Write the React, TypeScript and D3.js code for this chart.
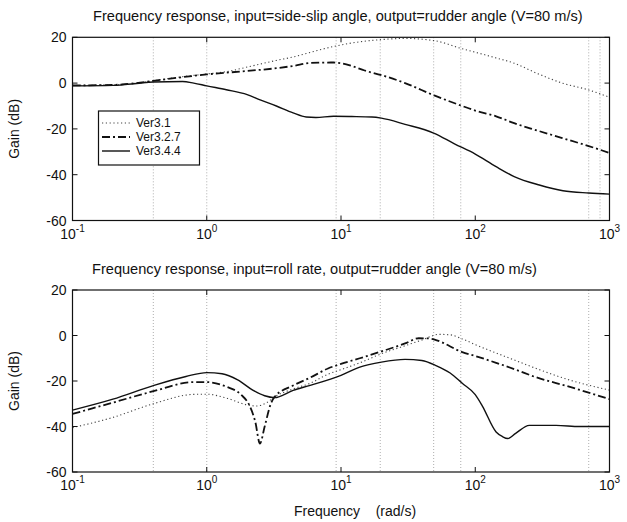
import React from "react";
import * as d3 from "d3";

type Pt = [number, number];

const seriesNames = ["Ver3.1", "Ver3.2.7", "Ver3.4.4"];
const freqTicks = [0.1, 1, 10, 100, 1000];
const freqTickExp = ["-1", "0", "1", "2", "3"];
const gainTicks = [20, 0, -20, -40, -60];

const topTitle = "Frequency response, input=side-slip angle, output=rudder angle (V=80 m/s)";
const bottomTitle = "Frequency response, input=roll rate, output=rudder angle (V=80 m/s)";
const yLabel = "Gain (dB)";
const xLabel = "Frequency    (rad/s)";

const topGridFreqs = [0.4, 1, 9.2, 19.6, 49, 78, 700, 850];
const bottomGridFreqs = [0.4, 1, 9.2, 19.6, 49, 78, 700];

// Top: input = side-slip angle
const sideSlipV31: Pt[] = [
  [0.1, -1], [0.2, -0.8], [0.3, 0], [0.4, 1], [0.6, 2.5], [1, 4], [1.4, 5], [2, 7],
  [3.3, 9.9], [4.4, 11.4], [6, 13.5], [8.8, 16], [12, 17.5], [20, 19], [30, 19.5],
  [50, 18.5], [80, 15], [100, 13.5], [143, 11], [195, 8.7], [282, 4.5], [445, 0],
  [700, -3], [1000, -6.2],
];
const sideSlipV327: Pt[] = [
  [0.1, -1], [0.2, -0.8], [0.3, 0], [0.4, 1], [0.6, 2.3], [1, 3.8], [2, 5.3], [3.3, 6.5],
  [4.4, 7.5], [6, 8.8], [8.8, 9], [10, 8.7], [12, 7.5], [15, 5.5], [20, 3.5], [30, 0],
  [50, -5.5], [80, -10], [100, -12], [143, -14.5], [195, -17.5], [282, -20.5],
  [445, -24], [700, -27.5], [1000, -30.5],
];
const sideSlipV344: Pt[] = [
  [0.1, -1.2], [0.2, -1], [0.3, -0.2], [0.4, 0.5], [0.66, 0.7], [0.8, 0], [1, -1.2],
  [1.4, -2.9], [2, -5], [2.5, -7.3], [3.3, -10], [4.4, -13], [5.5, -14.8], [6.5, -15],
  [8.8, -14.5], [12, -14.6], [17, -14.8], [20, -15.3], [30, -18], [49, -21.8],
  [70, -26.5], [100, -31], [143, -36.5], [195, -40.8], [300, -44.5], [450, -47],
  [700, -48], [1000, -48.5],
];

// Bottom: input = roll rate
const rollV31: Pt[] = [
  [0.1, -40.5], [0.2, -36], [0.4, -30], [0.79, -25.9], [1, -25.8], [1.4, -27.5],
  [2, -30.5], [2.35, -31], [2.8, -29.5], [3.2, -27], [4.4, -23.5], [5.9, -21],
  [8, -17], [10, -15], [13.8, -12], [20, -8], [30, -4.5], [40, -2], [54, 0.5],
  [65, 0.3], [80, -1.5], [100, -4], [200, -11], [300, -15], [500, -19.5], [1000, -24],
];
const rollV327: Pt[] = [
  [0.1, -34.5], [0.2, -29.5], [0.4, -24.5], [0.8, -20.5], [1, -20.5], [1.4, -22.5],
  [1.8, -26], [2.09, -31], [2.3, -38], [2.49, -47.5], [2.7, -40], [3, -30], [3.2, -27],
  [4.4, -22], [5.9, -18.5], [8, -14.5], [10, -12.5], [13.8, -10], [20, -7], [30, -3.5],
  [38, -1.2], [45, -1.3], [51, -2], [80, -7.3], [100, -9], [143, -12], [200, -15],
  [282, -18.3], [500, -22.5], [1000, -28],
];
const rollV344: Pt[] = [
  [0.1, -32.8], [0.2, -28], [0.4, -22], [0.7, -18], [1, -16.3], [1.3, -16.8],
  [1.7, -19.5], [2.2, -24], [2.7, -26.5], [3.2, -27.3], [4.4, -24.1], [5.9, -21.9],
  [10, -17.5], [13.8, -13.9], [20, -11.7], [30, -10.5], [40, -11], [51, -13.2],
  [65, -16.5], [80, -21], [100, -26], [113, -31], [143, -42.4], [160, -44.5],
  [175, -45.3], [200, -43], [253, -39.5], [400, -39.5], [600, -40], [1000, -40],
];

const styles = [
  { stroke: "#444", width: 1.1, dash: "1.2,2.6" },
  { stroke: "#111", width: 1.8, dash: "8,3,2,3" },
  { stroke: "#111", width: 1.4, dash: "none" },
];

const X0 = 72.5;
const X1 = 609.5;
const FONT = "'Liberation Sans', Arial, Helvetica, sans-serif";

function Panel(props: {
  y0: number;
  y1: number;
  title: string;
  titleX: number;
  series: Pt[][];
  grid: number[];
  legend: boolean;
}) {
  const { y0, y1, title, titleX, series, grid, legend } = props;
  const x = d3.scaleLog().domain([0.1, 1000]).range([X0, X1]);
  const y = d3.scaleLinear().domain([-60, 20]).range([y1, y0]);
  const line = d3
    .line<Pt>()
    .x((d) => x(d[0]))
    .y((d) => y(d[1]))
    .curve(d3.curveMonotoneX);

  return (
    <g>
      <text x={titleX} y={y0 - 16} fontSize={14.6} fontFamily={FONT} fill="#111">
        {title}
      </text>
      {grid.map((f, i) => (
        <line
          key={"g" + i}
          x1={x(f)}
          x2={x(f)}
          y1={y0}
          y2={y1}
          stroke="#999"
          strokeWidth={0.8}
          strokeDasharray="1,2"
        />
      ))}
      {series.map((s, i) => (
        <path
          key={"s" + i}
          d={line(s) || ""}
          fill="none"
          stroke={styles[i].stroke}
          strokeWidth={styles[i].width}
          strokeDasharray={styles[i].dash}
        />
      ))}
      <rect x={X0} y={y0} width={X1 - X0} height={y1 - y0} fill="none" stroke="#111" strokeWidth={1.2} />
      {freqTicks.map((f, i) => (
        <g key={"xt" + i}>
          <line x1={x(f)} x2={x(f)} y1={y1} y2={y1 - 5} stroke="#111" />
          <line x1={x(f)} x2={x(f)} y1={y0} y2={y0 + 5} stroke="#111" />
          <text
            x={x(f)}
            y={y1 + 18}
            textAnchor="middle"
            fontSize={14}
            fontFamily={FONT}
            fill="#111"
          >
            10
            <tspan dy={-7} fontSize={10}>
              {freqTickExp[i]}
            </tspan>
          </text>
        </g>
      ))}
      {gainTicks.map((g, i) => (
        <g key={"yt" + i}>
          <line x1={X0} x2={X0 + 5} y1={y(g)} y2={y(g)} stroke="#111" />
          <line x1={X1} x2={X1 - 5} y1={y(g)} y2={y(g)} stroke="#111" />
          <text
            x={X0 - 6}
            y={y(g) + 5}
            textAnchor="end"
            fontSize={14}
            fontFamily={FONT}
            fill="#111"
          >
            {g}
          </text>
        </g>
      ))}
      <text
        transform={`translate(19,${(y0 + y1) / 2}) rotate(-90)`}
        textAnchor="middle"
        fontSize={14}
        fontFamily={FONT}
        fill="#111"
      >
        {yLabel}
      </text>
      {legend && (
        <g>
          <rect x={98.5} y={111} width={101} height={54} fill="#fff" stroke="#111" strokeWidth={1.2} />
          {seriesNames.map((n, i) => (
            <g key={"l" + i}>
              <line
                x1={102}
                x2={130}
                y1={123 + i * 14}
                y2={123 + i * 14}
                stroke={styles[i].stroke}
                strokeWidth={styles[i].width}
                strokeDasharray={styles[i].dash}
              />
              <text x={136} y={123 + i * 14 + 4.3} fontSize={12} fontFamily={FONT} fill="#111">
                {n}
              </text>
            </g>
          ))}
        </g>
      )}
    </g>
  );
}

export default function App() {
  return (
    <svg
      width={627}
      height={522}
      style={{ position: "absolute", left: 0, top: 0, background: "#fff" }}
    >
      <rect width={627} height={522} fill="#fff" />
      <Panel
        y0={37.3}
        y1={220.5}
        title={topTitle}
        titleX={93}
        series={[sideSlipV31, sideSlipV327, sideSlipV344]}
        grid={topGridFreqs}
        legend={true}
      />
      <Panel
        y0={290}
        y1={472}
        title={bottomTitle}
        titleX={92}
        series={[rollV31, rollV327, rollV344]}
        grid={bottomGridFreqs}
        legend={false}
      />
      <text
        x={355}
        y={516}
        textAnchor="middle"
        fontSize={14}
        fontFamily={FONT}
        fill="#111"
        style={{ whiteSpace: "pre" }}
        xmlSpace="preserve"
      >
        {xLabel}
      </text>
    </svg>
  );
}
